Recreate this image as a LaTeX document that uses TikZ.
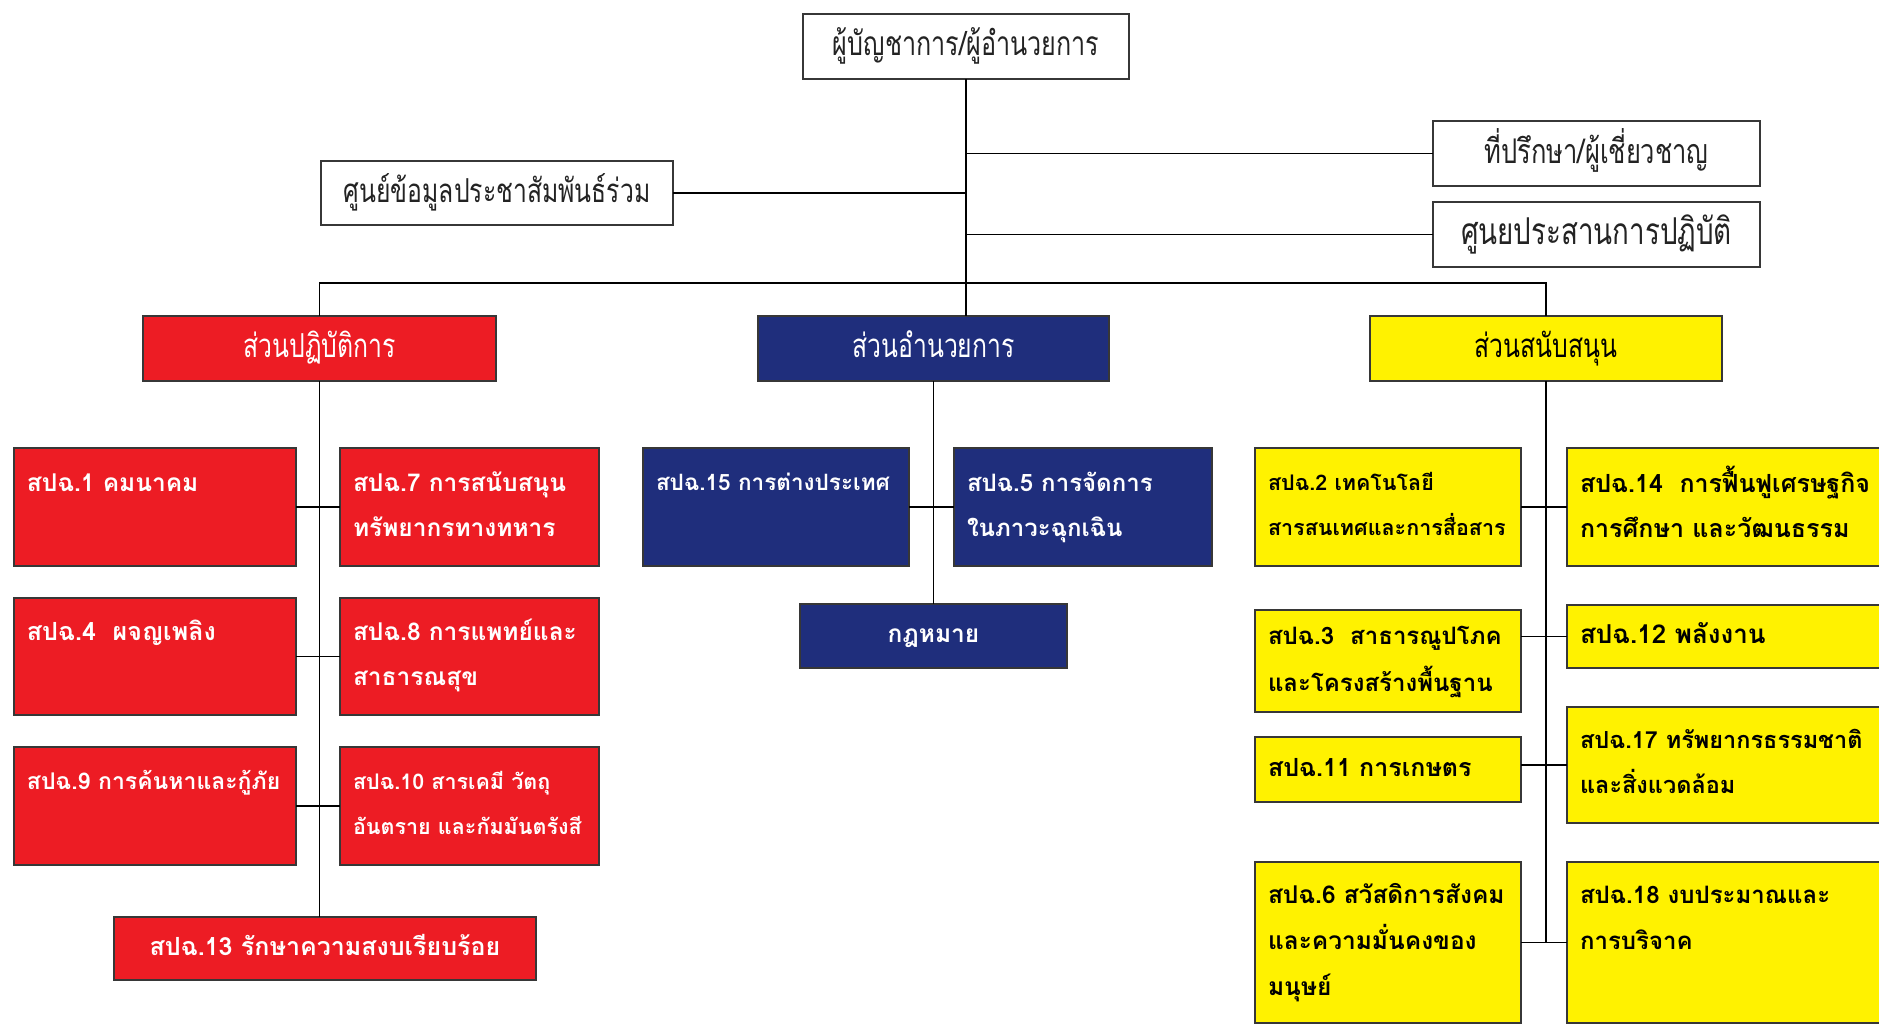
\documentclass[tikz,border=0pt]{standalone}
\usepackage{fontspec}
\newfontfamily\thai[Script=Thai]{Loma}
\newfontfamily\thaicond[Script=Thai,FakeStretch=0.75]{Loma}
\definecolor{opred}{RGB}{237,28,36}
\definecolor{admblue}{RGB}{31,46,124}
\definecolor{supyel}{RGB}{255,242,0}
\definecolor{bordergray}{RGB}{55,55,55}
\definecolor{inkgray}{RGB}{35,35,35}
\newcommand\tstrut{\rule[-0.45em]{0pt}{1.45em}}
\newcommand\cf[1]{\thaicond\fontsize{#1}{45}\selectfont}
\newcommand\ufs[2]{\thai\bfseries\fontsize{#2}{#1}\selectfont}
\newcommand\uf[1]{\ufs{45}{#1}}
\newcommand\tline[1]{\mbox{\tstrut #1}}
\tikzset{
  base/.style={rectangle, draw=bordergray, line width=1.7pt, outer sep=0pt, inner ysep=0pt, inner xsep=13pt},
  whitebox/.style={base, fill=white, text=inkgray, align=center},
  head/.style={base, align=center, font=\cf{33}},
  redhead/.style={head, fill=opred, text=white},
  bluehead/.style={head, fill=admblue, text=white},
  yelhead/.style={head, fill=supyel, text=black},
  unit/.style={base, align=left, font=\uf{24}},
  redunit/.style={unit, fill=opred, text=white},
  blueunit/.style={unit, fill=admblue, text=white},
  yelunit/.style={unit, fill=supyel, text=black},
  conn/.style={draw=black, line width=1.7pt}
}
\begin{document}
\begin{tikzpicture}[x=1pt,y=-1pt]
\useasboundingbox (0,0) rectangle (1879,1025);
\clip (0,0) rectangle (1879,1025);
\fill[white] (0,0) rectangle (1879,1025);

% top level
\node[whitebox, font=\cf{33.5}, minimum width=326pt, minimum height=65pt] (top) at (966,46.5) {\tstrut ผู้บัญชาการ/ผู้อำนวยการ};
\node[whitebox, font=\cf{33}, minimum width=352pt, minimum height=64pt] (pr) at (497,193) {\tstrut ศูนย์ข้อมูลประชาสัมพันธ์ร่วม};
\node[whitebox, font=\cf{34}, minimum width=327pt, minimum height=65pt] (adv) at (1596.5,153.5) {\tstrut ที่ปรึกษา/ผู้เชี่ยวชาญ};
\node[whitebox, font=\cf{37}, minimum width=327pt, minimum height=65pt] (coord) at (1596.5,234.5) {\tstrut ศูนยประสานการปฏิบัติ};

% section heads
\node[redhead, minimum width=353pt, minimum height=65pt] (op) at (319.5,348.5) {\tstrut ส่วนปฏิบัติการ};
\node[bluehead, minimum width=351pt, minimum height=65pt] (adm) at (933.5,348.5) {\tstrut ส่วนอำนวยการ};
\node[yelhead, minimum width=352pt, minimum height=65pt] (sup) at (1546,348.5) {\tstrut ส่วนสนับสนุน};

% operations units
\node[redunit, font=\uf{24.5}, minimum width=282pt, text width=256pt, minimum height=118pt] (s1) at (155,507) {\tline{สปฉ.1 คมนาคม}\\\tstrut};
\node[redunit, font=\uf{24.5}, minimum width=259pt, text width=233pt, minimum height=118pt] (s7) at (469.5,507) {\tline{สปฉ.7 การสนับสนุน}\\\tline{ทรัพยากรทางทหาร}};
\node[redunit, font=\uf{25}, minimum width=282pt, text width=256pt, minimum height=117pt] (s4) at (155,656.5) {\tline{สปฉ.4\ \ ผจญเพลิง}\\\tstrut};
\node[redunit, font=\uf{24.5}, minimum width=259pt, text width=233pt, minimum height=117pt] (s8) at (469.5,656.5) {\tline{สปฉ.8 การแพทย์และ}\\\tline{สาธารณสุข}};
\node[redunit, font=\uf{23}, minimum width=282pt, text width=256pt, minimum height=118pt] (s9) at (155,806) {\tline{สปฉ.9 การค้นหาและกู้ภัย}\\\tstrut};
\node[redunit, font=\uf{21.5}, minimum width=259pt, text width=233pt, minimum height=118pt] (s10) at (469.5,806) {\tline{สปฉ.10 สารเคมี วัตถุ}\\\tline{อันตราย และกัมมันตรังสี}};
\node[redunit, font=\uf{25}, align=center, minimum width=422pt, minimum height=63pt] (s13) at (325,948.5) {\tstrut สปฉ.13 รักษาความสงบเรียบร้อย};

% administration units
\node[blueunit, font=\uf{22.5}, minimum width=266pt, text width=240pt, minimum height=118pt] (s15) at (776,507) {\tline{สปฉ.15 การต่างประเทศ}\\\tstrut};
\node[blueunit, font=\uf{24}, minimum width=258pt, text width=232pt, minimum height=118pt] (s5) at (1083,507) {\tline{สปฉ.5 การจัดการ}\\\tline{ในภาวะฉุกเฉิน}};
\node[blueunit, font=\uf{24.5}, align=center, minimum width=267pt, minimum height=64pt] (law) at (933.5,636) {\tstrut กฎหมาย};

% support units
\node[yelunit, font=\uf{21.5}, minimum width=266pt, text width=240pt, minimum height=118pt] (s2) at (1388,507) {\tline{สปฉ.2 เทคโนโลยี}\\\tline{สารสนเทศและการสื่อสาร}};
\node[yelunit, font=\uf{25}, minimum width=323pt, text width=297pt, minimum height=118pt] (s14) at (1728.5,507) {\tline{สปฉ.14\ \ การฟื้นฟูเศรษฐกิจ}\\\tline{การศึกษา และวัฒนธรรม}};
\node[yelunit, font={\ufs{47}{24}}, minimum width=266pt, text width=240pt, minimum height=102pt] (s3) at (1388,661) {\tline{สปฉ.3\ \ สาธารณูปโภค}\\\tline{และโครงสร้างพื้นฐาน}};
\node[yelunit, font=\uf{26}, minimum width=323pt, text width=297pt, minimum height=63pt] (s12) at (1728.5,636.5) {\tline{สปฉ.12 พลังงาน}};
\node[yelunit, font=\uf{25}, minimum width=266pt, text width=240pt, minimum height=65pt] (s11) at (1388,769.5) {\tline{สปฉ.11 การเกษตร}};
\node[yelunit, font=\uf{23.5}, minimum width=323pt, text width=297pt, minimum height=116pt] (s17) at (1728.5,765) {\tline{สปฉ.17 ทรัพยากรธรรมชาติ}\\\tline{และสิ่งแวดล้อม}};
\node[yelunit, font={\ufs{46}{24.5}}, minimum width=266pt, text width=240pt, minimum height=161pt] (s6) at (1388,942.5) {\tline{สปฉ.6 สวัสดิการสังคม}\\\tline{และความมั่นคงของ}\\\tline{มนุษย์}};
\node[yelunit, font={\ufs{46}{24}}, minimum width=323pt, text width=297pt, minimum height=161pt] (s18) at (1728.5,942.5) {\tline{สปฉ.18 งบประมาณและ}\\\tline{การบริจาค}\\\tstrut};

% connectors
\coordinate (barL) at (op.north |- 0,283);
\coordinate (barR) at (sup.north |- 0,283);
\coordinate (supEnd) at (sup.south |- s6.east);
\draw[conn] (top.south) -- (top.south |- adm.north);
\draw[conn] (adv.west) -- (adv.west -| top.south);
\draw[conn] (coord.west) -- (coord.west -| top.south);
\draw[conn] (pr.east) -- (pr.east -| top.south);
\draw[conn] (op.north) -- (barL) -- (barR) -- (sup.north);
\draw[conn] (op.south) -- (op.south |- s13.north);
\draw[conn] (s1.east) -- (s7.west);
\draw[conn] (s4.east) -- (s8.west);
\draw[conn] (s9.east) -- (s10.west);
\draw[conn] (adm.south) -- (law.north);
\draw[conn] (s15.east) -- (s5.west);
\draw[conn] (sup.south) -- (supEnd);
\draw[conn] (s2.east) -- (s14.west);
\draw[conn] (s12.west) -- (s12.west -| s3.east);
\draw[conn] (s17.west) -- (s17.west -| s11.east);
\draw[conn] (s6.east) -- (s18.west);
\end{tikzpicture}
\end{document}
